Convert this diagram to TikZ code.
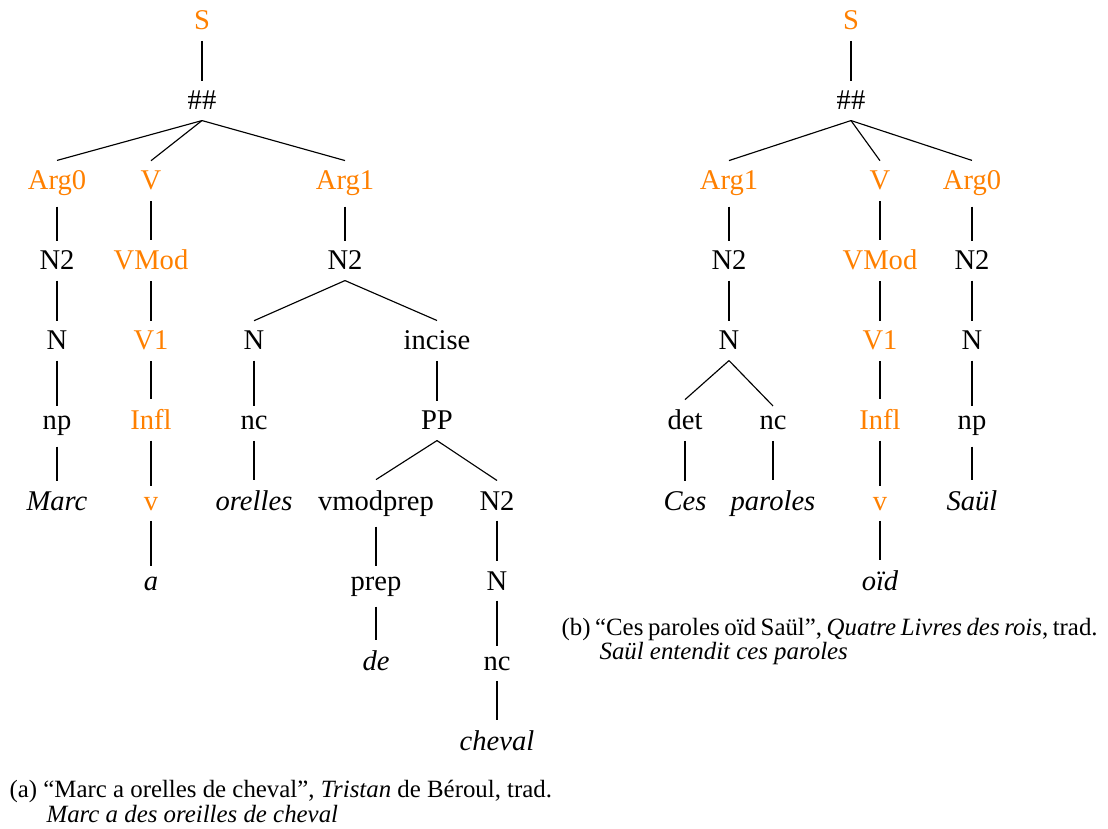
\documentclass[tikz,border=0pt]{standalone}
\usepackage{fontspec}
\setmainfont{Liberation Serif}
\definecolor{tor}{RGB}{255,128,0}
\newcommand{\tightspaces}{\spaceskip=1.6pt plus 0.5pt\relax\xspaceskip=1.6pt\relax}
\tikzset{
  t/.style={anchor=base, inner sep=3.5pt, font=\fontsize{10}{12}\selectfont},
  o/.style={t, text=tor},
  w/.style={t, font=\fontsize{10}{12}\selectfont\itshape},
  capline/.style={anchor=base west, inner sep=0pt, font=\fontsize{8.7}{10}\selectfont},
  br/.style={line width=0.4pt}
}
\begin{document}
\begin{tikzpicture}[x=0.35pt, y=-0.35pt]
\useasboundingbox (0,0) rectangle (1108,829);
% ---------- tree (a)
\node[o] (aS) at (202,30) {S};
\node[t] (aH) at (202,110) {\#\#};
\node[o] (aA0) at (57,190) {Arg0};
\node[o] (aV) at (151,190) {V};
\node[o] (aA1) at (345,190) {Arg1};
\node[t] (aN2a) at (57,270) {N2};
\node[o] (aVM) at (151,270) {VMod};
\node[t] (aN2b) at (345,270) {N2};
\node[t] (aNa) at (57,350) {N};
\node[o] (aV1) at (151,350) {V1};
\node[t] (aNb) at (254,350) {N};
\node[t] (aInc) at (437,350) {incise};
\node[t] (anp) at (57,430) {np};
\node[o] (aInfl) at (151,430) {Infl};
\node[t] (anc) at (254,430) {nc};
\node[t] (aPP) at (437,430) {PP};
\node[w] (aMarc) at (57,510) {Marc};
\node[o] (av) at (151,510) {v};
\node[w] (aor) at (254,510) {orelles};
\node[t] (avmp) at (376,510) {vmodprep};
\node[t] (aN2c) at (497,510) {N2};
\node[w] (aa) at (151,590) {a};
\node[t] (aprep) at (376,590) {prep};
\node[t] (aNc) at (497,590) {N};
\node[w] (ade) at (376,670) {de};
\node[t] (anc2) at (497,670) {nc};
\node[w] (ach) at (497,750) {cheval};
\foreach \p/\c in {aS/aH, aH/aA0, aH/aV, aH/aA1, aA0/aN2a, aV/aVM, aA1/aN2b,
  aN2a/aNa, aVM/aV1, aN2b/aNb, aN2b/aInc, aNa/anp, aV1/aInfl, aNb/anc, aInc/aPP,
  anp/aMarc, aInfl/av, anc/aor, aPP/avmp, aPP/aN2c, av/aa, avmp/aprep, aN2c/aNc,
  aprep/ade, aNc/anc2, anc2/ach}
  \draw[br] (\p.south) -- (\c.north);
% ---------- tree (b)
\node[o] (bS) at (851,30) {S};
\node[t] (bH) at (851,110) {\#\#};
\node[o] (bA1) at (729,190) {Arg1};
\node[o] (bV) at (880,190) {V};
\node[o] (bA0) at (972,190) {Arg0};
\node[t] (bN2a) at (729,270) {N2};
\node[o] (bVM) at (880,270) {VMod};
\node[t] (bN2b) at (972,270) {N2};
\node[t] (bNa) at (729,350) {N};
\node[o] (bV1) at (880,350) {V1};
\node[t] (bNb) at (972,350) {N};
\node[t] (bdet) at (685,430) {det};
\node[t] (bnc) at (773,430) {nc};
\node[o] (bInfl) at (880,430) {Infl};
\node[t] (bnp) at (972,430) {np};
\node[w] (bCes) at (685,510) {Ces};
\node[w] (bpar) at (773,510) {paroles};
\node[o] (bv) at (880,510) {v};
\node[w] (bSaul) at (972,510) {Saül};
\node[w] (boid) at (880,590) {oïd};
\foreach \p/\c in {bS/bH, bH/bA1, bH/bV, bH/bA0, bA1/bN2a, bV/bVM, bA0/bN2b,
  bN2a/bNa, bVM/bV1, bN2b/bNb, bNa/bdet, bNa/bnc, bV1/bInfl, bNb/bnp,
  bdet/bCes, bnc/bpar, bInfl/bv, bnp/bSaul, bv/boid}
  \draw[br] (\p.south) -- (\c.north);
% ---------- captions
\node[capline] (capa1) at (9,797) {(a) “Marc a orelles de cheval”, \textit{Tristan} de Béroul, trad.};
\node[capline] (capa2) at (46,822) {\textit{Marc a des oreilles de cheval}};
\node[capline] (capb1) at (561,635) {\tightspaces(b) “Ces paroles oïd Saül”, \textit{Quatre Livres des rois}, trad.};
\node[capline] (capb2) at (599,659) {\textit{Saül entendit ces paroles}};
\end{tikzpicture}
\end{document}
